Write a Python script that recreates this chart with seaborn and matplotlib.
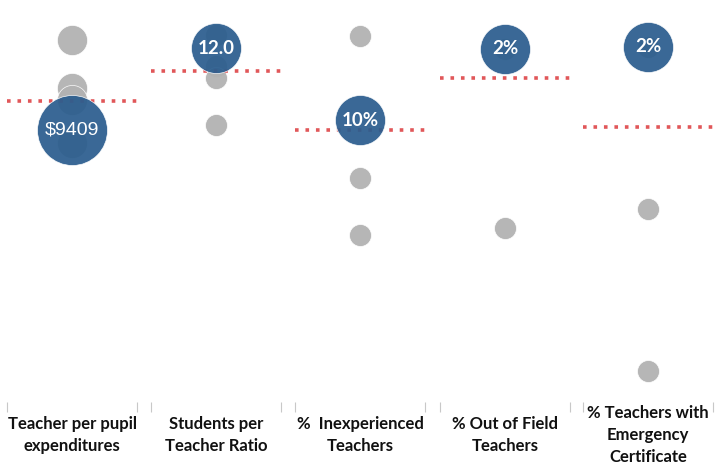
import matplotlib
matplotlib.use("Agg")
import matplotlib.pyplot as plt
import seaborn as sns

# one panel per measure, each with its own scale (inverted, Tableau style)
categories = [
    "Teacher per pupil\nexpenditures",
    "Students per\nTeacher Ratio",
    "%  Inexperienced\nTeachers",
    "% Out of Field\nTeachers",
    "% Teachers with\nEmergency\nCertificate",
]
comparison_values = [
    [7609, 8569, 8809, 9669],
    [11.74, 12.36, 12.6, 13.54],
    [5.8, 12.9, 15.75],
    [2.0, 5.58],
    [2.0, 5.24, 8.48],
]
school_values = [9409, 12.0, 10.0, 2.0, 2.0]
school_labels = ["$9409", "12.0", "10%", "2%", "2%"]
average_values = [8829, 12.46, 10.5, 2.58, 3.6]
axis_limits = [(14849, 6809), (19.08, 11.04), (24.1, 4.0), (9.06, 1.02), (9.1, 1.06)]

grey_sizes = [470, 250, 250, 250, 250]
blue_sizes = [2540, 1300, 1300, 1300, 1300]

blue = "#2b5d8e"
grey = "#b2b2b2"
red = "#e15759"

sns.set_theme(style="white")
plt.rcParams["font.family"] = ["Lato", "DejaVu Sans"]

fig = plt.figure(figsize=(7.18, 4.70), dpi=100)
W, H = 718.0, 470.0
lefts = [7, 151, 295, 440, 583]
panel_w = 130
top_px, bottom_px = 0, 402

for i, cat in enumerate(categories):
    ax = fig.add_axes([lefts[i] / W, 1 - bottom_px / H, panel_w / W, (bottom_px - top_px) / H])
    vals = comparison_values[i]
    sns.scatterplot(x=[0] * len(vals), y=vals, ax=ax, s=grey_sizes[i], color=grey,
                    edgecolor="white", linewidth=0.5, alpha=0.95, clip_on=False, zorder=2)
    ax.axhline(average_values[i], color=red, lw=2.6, linestyle=(0, (1, 1.9)),
               dash_capstyle="butt", zorder=3)
    sns.scatterplot(x=[0], y=[school_values[i]], ax=ax, s=blue_sizes[i], color=blue,
                    edgecolor="white", linewidth=0.5, alpha=0.93, clip_on=False, zorder=4)
    weight = "normal" if i == 0 else "bold"
    ax.text(0, school_values[i], school_labels[i], color="white", ha="center", va="center",
            fontsize=14 if i == 0 else 13.5, fontweight=weight, zorder=5,
            family=["Liberation Sans", "DejaVu Sans"] if i == 0 else ["Lato", "DejaVu Sans"])

    ax.set_xlim(-0.5, 0.5)
    ax.set_ylim(*axis_limits[i])
    ax.set_xticks([-0.5, 0.5])
    ax.set_xticklabels(["", ""])
    ax.set_yticks([])
    ax.tick_params(axis="x", bottom=True, length=7, width=0.8, color="#c8c8c8", pad=0)
    ax.set_xlabel("")
    ax.set_ylabel("")
    for s in ax.spines.values():
        s.set_visible(False)

    fig.text((lefts[i] + panel_w / 2) / W, 1 - 435 / H, cat, ha="center", va="center",
             multialignment="center", fontsize=12, fontweight="bold", color="#111111",
             family=["Lato", "DejaVu Sans"], linespacing=1.5)

fig.savefig("out.png", dpi=100)
